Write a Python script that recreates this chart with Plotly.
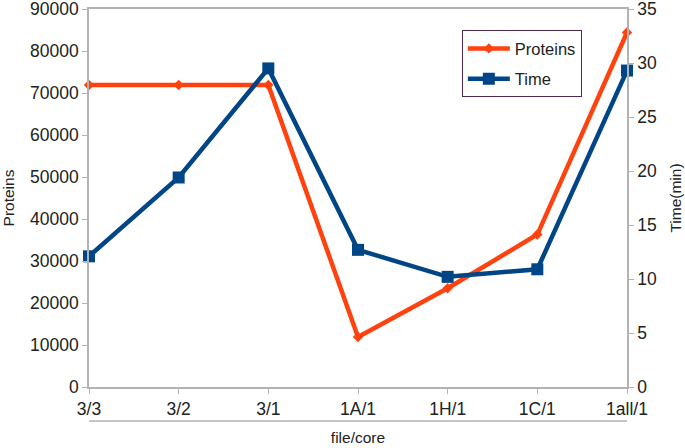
import plotly.graph_objects as go

categories = ["3/3", "3/2", "3/1", "1A/1", "1H/1", "1C/1", "1all/1"]
proteins = [71900, 71900, 71900, 11900, 23500, 36300, 84400]
time_min = [12.1, 19.4, 29.5, 12.7, 10.2, 10.9, 29.3]

orange = "#ff420e"
blue = "#004586"
axis_col = "#b3b3b3"
txt = "#222222"
font_family = "Liberation Sans, Arial, sans-serif"

fig = go.Figure()
fig.add_trace(go.Scatter(
    x=categories, y=proteins, name="Proteins", mode="lines+markers",
    line=dict(color=orange, width=4.5), marker=dict(symbol="diamond", size=8, color=orange),
    cliponaxis=False, legendgroup="p"))
fig.add_trace(go.Scatter(
    x=categories, y=time_min, name="Time", mode="lines+markers", yaxis="y2",
    line=dict(color=blue, width=4.5), marker=dict(symbol="square", size=12, color=blue),
    cliponaxis=False, legendgroup="t"))

fig.update_layout(
    width=685, height=448,
    margin=dict(l=89, r=58, t=9, b=61),
    paper_bgcolor="white", plot_bgcolor="white",
    font=dict(family=font_family, color=txt, size=14),
    showlegend=True,
    legend=dict(x=0.693, y=0.944, xanchor="left", yanchor="top",
                bordercolor="#4d2a4a", borderwidth=1, bgcolor="white",
                font=dict(size=16.5, color=txt), tracegroupgap=6, itemwidth=42,
                traceorder="grouped"),
    xaxis=dict(type="category", range=[0, 6], showgrid=False, automargin=False,
               showline=True, linecolor=axis_col, linewidth=1.5, mirror=True,
               ticks="outside", ticklen=5, tickcolor=axis_col, ticklabeloverflow="allow",
               tickfont=dict(size=17.5, color=txt),
               title=dict(text="file/core", font=dict(size=15.5, color=txt), standoff=14)),
    yaxis=dict(range=[0, 90000], dtick=10000, showgrid=False, zeroline=False, automargin=False,
               showline=True, linecolor=axis_col, linewidth=1.5, ticklabeloverflow="allow",
               ticks="outside", ticklen=5, tickcolor=axis_col,
               tickfont=dict(size=17.5, color=txt), tickformat="d",
               title=dict(text="Proteins", font=dict(size=15.5, color=txt), standoff=12)),
    yaxis2=dict(range=[0, 35], dtick=5, overlaying="y", side="right", automargin=False,
                showgrid=False, zeroline=False, ticklabeloverflow="allow",
                showline=True, linecolor=axis_col, linewidth=1.5,
                ticks="outside", ticklen=5, tickcolor=axis_col,
                tickfont=dict(size=17.5, color=txt),
                title=dict(text="Time(min)", font=dict(size=15.5, color=txt), standoff=14)),
    shapes=[dict(type="line", xref="paper", yref="paper", x0=0, x1=1, y0=-0.09, y1=-0.09,
                 line=dict(color=axis_col, width=1.5))],
)

fig.write_html("out.html", config={"displayModeBar": False},
               post_script="document.body.style.margin='0';")
